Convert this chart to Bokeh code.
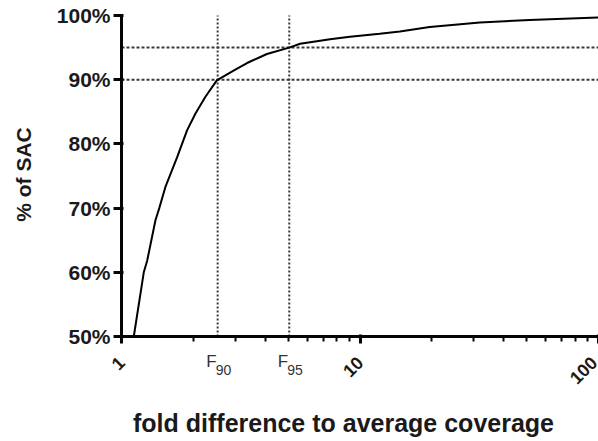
import math
from bokeh.plotting import figure
from bokeh.models import FixedTicker, NumeralTickFormatter, PrintfTickFormatter, Label, Arrow
from bokeh.embed import file_html
from bokeh.resources import INLINE

# data
fold = [1.126, 1.24, 1.281, 1.388, 1.44, 1.528, 1.710, 1.883, 2.04, 2.245, 2.51, 2.95,
        3.36, 4.07, 5.05, 5.61, 7.49, 9.08, 12.1, 14.7, 19.6, 31.8, 51.4, 100]
pct = [50, 60, 61.8, 68.1, 70, 73.3, 77.9, 82.1, 84.7, 87.3, 89.9, 91.4,
       92.6, 94.0, 95.0, 95.6, 96.3, 96.7, 97.15, 97.5, 98.2, 98.9, 99.3, 99.7]

f_values = [2.53, 5.05]          # F90, F95
f_subs = ["90", "95"]
h_levels = [90, 95]

x_lo, x_hi = 1, 100
y_lo, y_hi = 50, 100
x_major = [1, 10, 100]
x_minor = [2, 3, 4, 5, 6, 7, 8, 9, 20, 30, 40, 50, 60, 70, 80, 90]
y_ticks = [50, 60, 70, 80, 90, 100]

x_title = "fold difference to average coverage"
y_title = "% of SAC"

FONT = "Liberation Sans"
INK = "#1a1a1a"
DOT = "#3a3a3a"
AX = "#050505"

# page geometry: the frame covers the whole page, axes are pinned inside it
W, H = 598, 441
LEFT, RIGHT, TOP, BOTTOM = 121, 598, 15, 336
dec_px = (RIGHT - LEFT) / math.log10(x_hi / x_lo)
x_start = x_lo / 10 ** (LEFT / dec_px)
x_end = x_hi * 10 ** ((W - RIGHT) / dec_px)
unit_px = (BOTTOM - TOP) / (y_hi - y_lo)
y_start = y_lo - (H - BOTTOM) / unit_px
y_end = y_hi + TOP / unit_px

p = figure(width=W, height=H, x_axis_type="log", x_range=(x_start, x_end),
           y_range=(y_start, y_end),
           output_backend="svg", toolbar_location=None,
           min_border_left=0, min_border_right=0, min_border_top=0, min_border_bottom=0)
p.outline_line_color = None
p.xgrid.grid_line_color = None
p.ygrid.grid_line_color = None
p.background_fill_color = "white"
p.border_fill_color = "white"

# reference lines
p.segment(x0=f_values, y0=[y_lo] * len(f_values), x1=f_values, y1=[y_hi] * len(f_values),
          line_color=DOT, line_width=2, line_dash="2 2")
p.segment(x0=[x_lo] * len(h_levels), y0=h_levels, x1=[x_hi] * len(h_levels), y1=h_levels,
          line_color=DOT, line_width=2, line_dash="3 2")

p.line(fold, pct, line_color="black", line_width=2)

# x axis (ticks and tick labels)
xa = p.xaxis[0]
xa.fixed_location = y_lo
xa.ticker = FixedTicker(ticks=x_major, minor_ticks=x_minor)
xa.formatter = NumeralTickFormatter(format="0")
xa.major_label_orientation = math.pi / 4
xa.axis_line_color = None
xa.major_tick_line_color = AX
xa.minor_tick_line_color = AX
xa.major_tick_out = 7
xa.minor_tick_out = 5
xa.major_tick_line_width = 3
xa.minor_tick_line_width = 2
xa.major_label_text_font = FONT
xa.major_label_text_font_style = "bold"
xa.major_label_text_font_size = "18px"
xa.major_label_text_color = INK
xa.major_label_standoff = 16

# y axis (ticks and tick labels)
ya = p.yaxis[0]
ya.fixed_location = x_lo
ya.ticker = FixedTicker(ticks=y_ticks)
ya.formatter = PrintfTickFormatter(format="%d%%")
ya.axis_line_color = None
ya.major_tick_line_color = AX
ya.major_tick_out = 8
ya.major_tick_line_width = 3
ya.minor_tick_line_color = None
ya.major_label_text_font = FONT
ya.major_label_text_font_style = "bold"
ya.major_label_text_font_size = "21px"
ya.major_label_text_color = INK
ya.major_label_standoff = 3

# axis rules, limited to the data extent, drawn on top of the axes
p.add_layout(Arrow(end=None, x_start=x_lo, y_start=y_lo, x_end=x_hi, y_end=y_lo,
                   line_color=AX, line_width=3, line_cap="square"))
p.add_layout(Arrow(end=None, x_start=x_lo, y_start=y_lo, x_end=x_lo, y_end=y_hi,
                   line_color=AX, line_width=3, line_cap="square"))

# axis titles
p.add_layout(Label(x=x_lo, y=y_lo, x_offset=222, y_offset=-86, text=x_title,
                   text_align="center", text_baseline="middle", text_font=FONT,
                   text_font_style="bold", text_font_size="25px", text_color=INK))
p.add_layout(Label(x=x_lo, y=y_lo, x_offset=-98, y_offset=162, text=y_title, angle=math.pi / 2,
                   text_align="center", text_baseline="middle", text_font=FONT,
                   text_font_style="bold", text_font_size="21px", text_color=INK))

# F90 / F95 labels
for v, s in zip(f_values, f_subs):
    p.add_layout(Label(x=v, y=y_lo, x_offset=-1, y_offset=-25, text="F", text_align="right",
                       text_baseline="middle", text_font=FONT, text_font_size="17px",
                       text_color="#333333"))
    p.add_layout(Label(x=v, y=y_lo, x_offset=-2, y_offset=-33, text=s, text_align="left",
                       text_baseline="middle", text_font=FONT, text_font_size="14px",
                       text_color="#333333"))

open("out.html", "w").write(file_html(p, INLINE))
